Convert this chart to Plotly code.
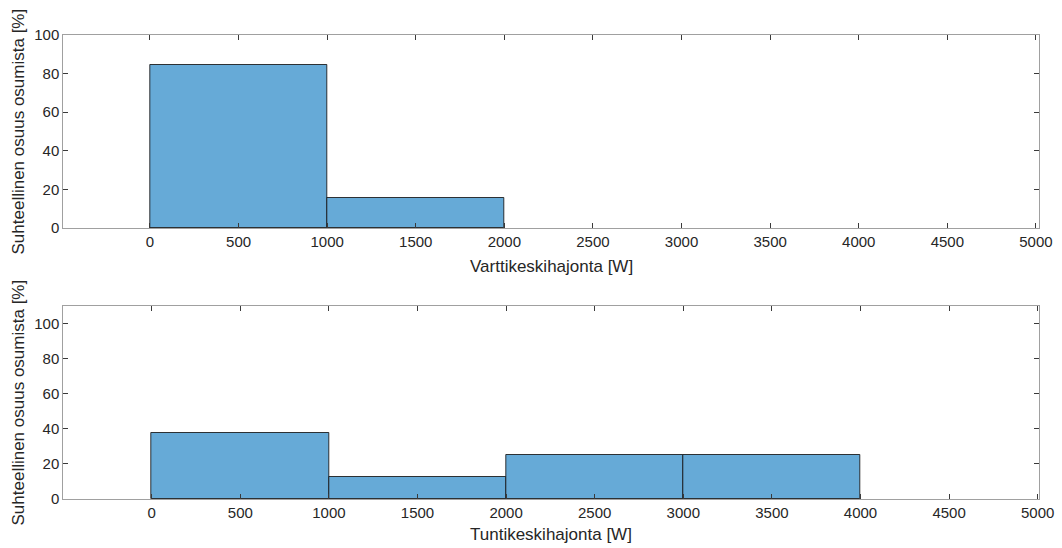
import plotly.graph_objects as go

# Histogram bin edges [W] and relative share of hits [%]
quarter_edges = [0, 1000, 2000]
quarter_pct = [84.6, 15.4]

hour_edges = [0, 1000, 2000, 3000, 4000]
hour_pct = [37.5, 12.5, 25.0, 25.0]

x_ticks = [0, 500, 1000, 1500, 2000, 2500, 3000, 3500, 4000, 4500, 5000]
y_ticks = [0, 20, 40, 60, 80, 100]

y_title = "Suhteellinen osuus osumista [%]"
x_title_top = "Varttikeskihajonta [W]"
x_title_bottom = "Tuntikeskihajonta [W]"

W, H = 1062, 548
FILL = "rgb(102,170,215)"
EDGE = "rgba(20,20,20,0.85)"
FAMILY = "Liberation Sans, Arial, sans-serif"
FONT = dict(family=FAMILY, size=15, color="#262626")
TITLE_FONT = dict(family=FAMILY, size=17, color="#262626")


def bars(edges, values, xa, ya):
    centers = [(a + b) / 2 for a, b in zip(edges[:-1], edges[1:])]
    widths = [b - a for a, b in zip(edges[:-1], edges[1:])]
    return go.Bar(x=centers, y=values, width=widths, xaxis=xa, yaxis=ya,
                  marker=dict(color=FILL, line=dict(color=EDGE, width=1)),
                  showlegend=False, hoverinfo="x+y")


fig = go.Figure()
fig.add_trace(bars(quarter_edges, quarter_pct, "x", "y"))
fig.add_trace(bars(hour_edges, hour_pct, "x2", "y2"))

px_l, px_r = 63.3, 1039.3
top_px = (35, 228)
bot_px = (306, 499)


def ydom(p):
    return [1 - p[1] / H, 1 - p[0] / H]


axis_common = dict(
    showline=True, linecolor="#a0a0a0", linewidth=1, mirror="ticks",
    ticks="inside", ticklen=5, tickwidth=1, tickcolor="#3a3a3a",
    showgrid=False, zeroline=False, tickfont=FONT, fixedrange=True,
    automargin=False,
)

fig.update_layout(
    width=W, height=H,
    margin=dict(l=0, r=0, t=0, b=0),
    paper_bgcolor="white", plot_bgcolor="white",
    bargap=0, font=FONT,
    xaxis=dict(domain=[px_l / W, px_r / W], range=[-489, 5019], anchor="y",
               tickvals=x_ticks, ticktext=[str(v) for v in x_ticks], **axis_common),
    yaxis=dict(domain=ydom(top_px), range=[0, 100], anchor="x",
               tickvals=y_ticks, ticktext=[str(v) for v in y_ticks], **axis_common),
    xaxis2=dict(domain=[px_l / W, px_r / W], range=[-499, 5009], anchor="y2",
                tickvals=x_ticks, ticktext=[str(v) for v in x_ticks], **axis_common),
    yaxis2=dict(domain=ydom(bot_px), range=[0, 110], anchor="x2",
                tickvals=y_ticks, ticktext=[str(v) for v in y_ticks], **axis_common),
)

xc = ((px_l + px_r) / 2) / W
ann = []
for text, ypx in [(x_title_top, 266), (x_title_bottom, 534)]:
    ann.append(dict(text=text, x=xc, y=1 - ypx / H, xref="paper", yref="paper",
                    showarrow=False, xanchor="center", yanchor="middle",
                    font=TITLE_FONT))
for p in (top_px, bot_px):
    ann.append(dict(text=y_title, x=18 / W, y=1 - ((p[0] + p[1]) / 2) / H,
                    xref="paper", yref="paper", showarrow=False, textangle=-90,
                    xanchor="center", yanchor="middle", font=TITLE_FONT))
fig.update_layout(annotations=ann)

fig.write_html("out.html")
